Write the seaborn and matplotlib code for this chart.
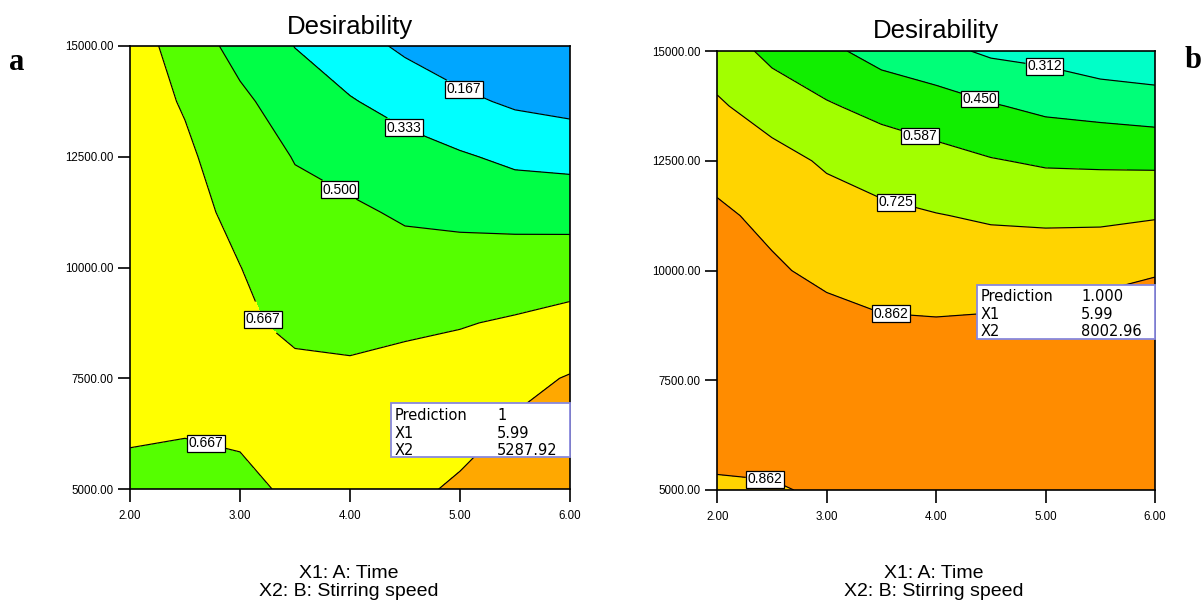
import numpy as np
import matplotlib
matplotlib.use("Agg")
import matplotlib.pyplot as plt
from matplotlib.patches import Rectangle
import seaborn as sns

# ---------------- data ----------------
x1_values = [2.0, 2.5, 3.0, 3.5, 4.0, 4.5, 5.0, 5.5, 6.0]
x2_values = [5000, 6250, 7500, 8750, 10000, 11250, 12500, 13750, 15000]

# rows follow x2_values (bottom -> top), columns follow x1_values
desirability_a = [
    [0.600, 0.580, 0.600, 0.715, 0.760, 0.790, 0.860, 0.930, 1.000],
    [0.690, 0.675, 0.700, 0.740, 0.770, 0.780, 0.776, 0.860, 0.920],
    [0.740, 0.740, 0.730, 0.745, 0.700, 0.720, 0.720, 0.790, 0.843],
    [0.770, 0.760, 0.720, 0.600, 0.619, 0.640, 0.660, 0.680, 0.718],
    [0.780, 0.760, 0.670, 0.550, 0.570, 0.560, 0.570, 0.590, 0.586],
    [0.780, 0.740, 0.610, 0.530, 0.525, 0.480, 0.460, 0.440, 0.442],
    [0.770, 0.700, 0.560, 0.495, 0.440, 0.400, 0.350, 0.300, 0.282],
    [0.760, 0.650, 0.535, 0.410, 0.345, 0.270, 0.200, 0.143, 0.113],
    [0.740, 0.600, 0.440, 0.330, 0.230, 0.140, 0.070, 0.030, 0.000],
]

desirability_b = [
    [0.845, 0.850, 0.880, 0.900, 0.920, 0.930, 0.940, 0.950, 0.960],
    [0.905, 0.916, 0.930, 0.950, 0.960, 0.970, 0.980, 0.990, 0.990],
    [0.920, 0.940, 0.950, 0.960, 0.970, 0.980, 0.990, 1.000, 1.000],
    [0.930, 0.940, 0.910, 0.880, 0.875, 0.880, 0.900, 0.930, 0.950],
    [0.920, 0.880, 0.830, 0.800, 0.790, 0.800, 0.810, 0.820, 0.850],
    [0.885, 0.830, 0.775, 0.750, 0.730, 0.710, 0.700, 0.700, 0.715],
    [0.815, 0.765, 0.710, 0.670, 0.630, 0.595, 0.570, 0.565, 0.560],
    [0.740, 0.670, 0.600, 0.545, 0.510, 0.460, 0.420, 0.400, 0.380],
    [0.665, 0.550, 0.480, 0.400, 0.350, 0.290, 0.270, 0.220, 0.200],
]

levels_a = [0.167, 0.333, 0.500, 0.667, 0.833]
labeled_levels_a = [0.167, 0.333, 0.500, 0.667]
levels_b = [0.312, 0.450, 0.587, 0.725, 0.862]

x_ticks = [2.0, 3.0, 4.0, 5.0, 6.0]
y_ticks = [5000, 7500, 10000, 12500, 15000]

pred_names = ["Prediction", "X1", "X2"]
pred_a = ["1", "5.99", "5287.92"]
pred_b = ["1.000", "5.99", "8002.96"]

title = "Desirability"
xlabel_lines = ["X1: A: Time", "X2: B: Stirring speed"]

# ---------------- style ----------------
colors_a = ["#00a6ff", "#00ffff", "#00ff46", "#55ff00", "#ffff00", "#ffa800"]
colors_b = ["#00ffc8", "#00ff78", "#11ee00", "#a2ff00", "#ffd400", "#ff8c00"]

sns.set_theme(style="white")
plt.rcParams["font.family"] = ["Liberation Sans", "DejaVu Sans"]
plt.rcParams["text.color"] = "black"
plt.rcParams["axes.labelcolor"] = "black"
plt.rcParams["xtick.color"] = "black"
plt.rcParams["ytick.color"] = "black"

fig = plt.figure(figsize=(12.01, 6.01), dpi=100)

ax_a = fig.add_axes([130 / 1201, 1 - 489 / 601, 440 / 1201, 443 / 601])
ax_b = fig.add_axes([717.2 / 1201, 1 - 490 / 601, 437.8 / 1201, 439 / 601])


def draw_panel(ax, z, levels, label_levels, fill_colors, label_pos, names, values,
               box, rows_y, col_x):
    Z = np.array(z)
    fill_levels = [-0.01] + list(levels) + [1.01]
    ax.contourf(x1_values, x2_values, Z, levels=fill_levels, colors=fill_colors)
    cs = ax.contour(x1_values, x2_values, Z, levels=levels, colors="black",
                    linewidths=0.85)
    ax.set_xlim(2, 6)
    ax.set_ylim(5000, 15000)
    texts = ax.clabel(cs, levels=label_levels, manual=label_pos, inline=True,
                      fmt="%.3f", fontsize=10, inline_spacing=2)
    for t in texts:
        t.set_rotation(0)
        t.set_color("black")
        t.set_bbox(dict(boxstyle="square,pad=0.1", fc="white", ec="black", lw=0.9))
    ax.set_xticks(x_ticks)
    ax.set_xticklabels([f"{v:.2f}" for v in x_ticks])
    ax.set_yticks(y_ticks)
    ax.set_yticklabels([f"{v:.2f}" for v in y_ticks])
    ax.tick_params(axis="both", which="major", direction="out", length=9,
                   width=1.2, labelsize=8.3, bottom=True, left=True,
                   colors="black", labelcolor="black")
    ax.tick_params(axis="x", pad=6)
    ax.tick_params(axis="y", pad=3)
    for s in ax.spines.values():
        s.set_color("black")
        s.set_linewidth(1.2)
        s.set_visible(True)
    ax.grid(False)
    # prediction box
    bx0, by0, bx1, by1 = box
    ax.add_patch(Rectangle((bx0, by0), bx1 - bx0, by1 - by0, transform=ax.transAxes,
                           facecolor="white", edgecolor="#8888dd", lw=1.3,
                           zorder=10, clip_on=False))
    for name, val, yy in zip(names, values, rows_y):
        ax.text(col_x[0], yy, name, transform=ax.transAxes, fontsize=10.5,
                family="DejaVu Sans", va="center", ha="left", zorder=11,
                color="black")
        ax.text(col_x[1], yy, val, transform=ax.transAxes, fontsize=10.5,
                family="DejaVu Sans", va="center", ha="left", zorder=11,
                color="black")


draw_panel(ax_a, desirability_a, levels_a, labeled_levels_a, colors_a,
           [(5.05, 14100), (4.49, 13160), (3.91, 11780), (3.20, 8820), (2.70, 6120)],
           pred_names, pred_a,
           (0.593, 0.072, 1.0, 0.194), [0.165, 0.126, 0.088], (0.602, 0.834))

draw_panel(ax_b, desirability_b, levels_b, levels_b, colors_b,
           [(4.99, 14640), (4.40, 13920), (3.85, 13050), (3.64, 11610),
            (3.59, 9000), (2.44, 5300)],
           pred_names, pred_b,
           (0.594, 0.344, 1.0, 0.467), [0.440, 0.399, 0.360], (0.602, 0.831))

# titles
fig.text(350 / 1201, 1 - 27 / 601, title, ha="center", va="center", fontsize=18.5,
         color="black")
fig.text(936 / 1201, 1 - 31 / 601, title, ha="center", va="center", fontsize=18.5,
         color="black")

# axis descriptions
for cx in (349 / 1201, 934 / 1201):
    fig.text(cx, 1 - 573 / 601, xlabel_lines[0], ha="center", va="center",
             fontsize=14, color="black")
    fig.text(cx, 1 - 592 / 601, xlabel_lines[1], ha="center", va="center",
             fontsize=14, color="black")

# panel letters
fig.text(17 / 1201, 1 - 62 / 601, "a", ha="center", va="center", fontsize=22,
         family="Liberation Serif", fontweight="bold", color="black")
fig.text(1193 / 1201, 1 - 60 / 601, "b", ha="center", va="center", fontsize=22,
         family="Liberation Serif", fontweight="bold", color="black")

fig.savefig("out.png", dpi=100, facecolor="white")
